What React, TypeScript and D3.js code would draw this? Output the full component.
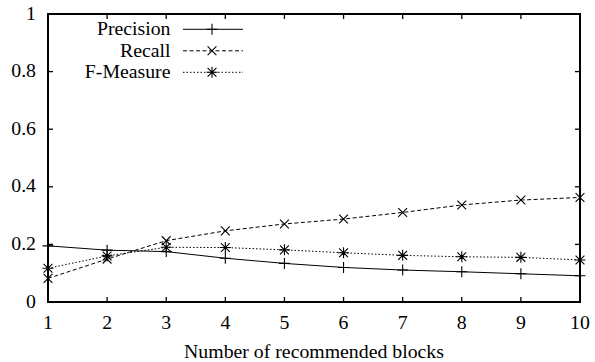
import React from "react";
import * as d3 from "d3";

const blocks = [1, 2, 3, 4, 5, 6, 7, 8, 9, 10];
const precision = [0.195, 0.18, 0.175, 0.152, 0.134, 0.12, 0.111, 0.105, 0.098, 0.091];
const recall = [0.082, 0.149, 0.213, 0.247, 0.271, 0.288, 0.311, 0.337, 0.354, 0.363];
const fmeasure = [0.117, 0.16, 0.19, 0.189, 0.181, 0.171, 0.162, 0.157, 0.155, 0.146];
const yTicks = [0, 0.2, 0.4, 0.6, 0.8, 1];
const yTickLabels = ["0", "0.2", "0.4", "0.6", "0.8", "1"];
const seriesNames = ["Precision", "Recall", "F-Measure"];
const xLabel = "Number of recommended blocks";

const W = 595, H = 362;
const L = 48, R = 580, T = 14, B = 302;
const FS = 19.8;
const textStyle: React.CSSProperties = { fontFamily: "Liberation Serif", fontSize: FS };

function Marker({ kind, x, y }: { kind: number; x: number; y: number }) {
  const s = 5.5;
  const plus = `M${x - s},${y}H${x + s}M${x},${y - s}V${y + s}`;
  const cross = `M${x - s * 0.8},${y - s * 0.8}L${x + s * 0.8},${y + s * 0.8}M${x - s * 0.8},${y + s * 0.8}L${x + s * 0.8},${y - s * 0.8}`;
  const d = kind === 0 ? plus : kind === 1 ? cross : plus + cross;
  return <path d={d} stroke="#000" strokeWidth={1.1} fill="none" />;
}

export default function App() {
  const x = d3.scaleLinear().domain([1, 10]).range([L, R]);
  const y = d3.scaleLinear().domain([0, 1]).range([B, T]);
  const data = [precision, recall, fmeasure];
  const dashes = [undefined, "4,2.5", "1.5,2"];
  const line = d3
    .line<number>()
    .x((_, i) => x(blocks[i]))
    .y((d) => y(d));
  const tl = 5;
  return (
    <svg width={W} height={H} style={{ position: "absolute", left: 0, top: 0, background: "#fff" }}>
      {yTicks.map((t, i) => (
        <g key={"y" + i}>
          <line x1={L} x2={L + tl} y1={y(t)} y2={y(t)} stroke="#000" strokeWidth={1.3} />
          <line x1={R} x2={R - tl} y1={y(t)} y2={y(t)} stroke="#000" strokeWidth={1.3} />
          <text x={36} y={y(t) + 5.5} textAnchor="end" style={textStyle}>
            {yTickLabels[i]}
          </text>
        </g>
      ))}
      {blocks.map((b) => (
        <g key={"x" + b}>
          <line x1={x(b)} x2={x(b)} y1={B} y2={B - tl} stroke="#000" strokeWidth={1.3} />
          <line x1={x(b)} x2={x(b)} y1={T} y2={T + tl} stroke="#000" strokeWidth={1.3} />
          <text x={x(b)} y={328.5} textAnchor="middle" style={textStyle}>
            {b}
          </text>
        </g>
      ))}
      <text x={314} y={358} textAnchor="middle" style={textStyle}>
        {xLabel}
      </text>
      {data.map((vals, k) => (
        <g key={"s" + k}>
          <path d={line(vals) || ""} fill="none" stroke="#000" strokeWidth={1} strokeDasharray={dashes[k]} />
          {vals.map((v, i) => (
            <Marker key={i} kind={k} x={x(blocks[i])} y={y(v)} />
          ))}
        </g>
      ))}
      {seriesNames.map((n, k) => {
        const ly = 29.3 + k * 21.5;
        return (
          <g key={"l" + k}>
            <text x={170.5} y={ly + 6} textAnchor="end" style={textStyle}>
              {n}
            </text>
            <line x1={183} x2={243} y1={ly} y2={ly} stroke="#000" strokeWidth={1} strokeDasharray={dashes[k]} />
            <Marker kind={k} x={212} y={ly} />
          </g>
        );
      })}
      <rect x={L} y={T} width={R - L} height={B - T} fill="none" stroke="#000" strokeWidth={2} />
    </svg>
  );
}
